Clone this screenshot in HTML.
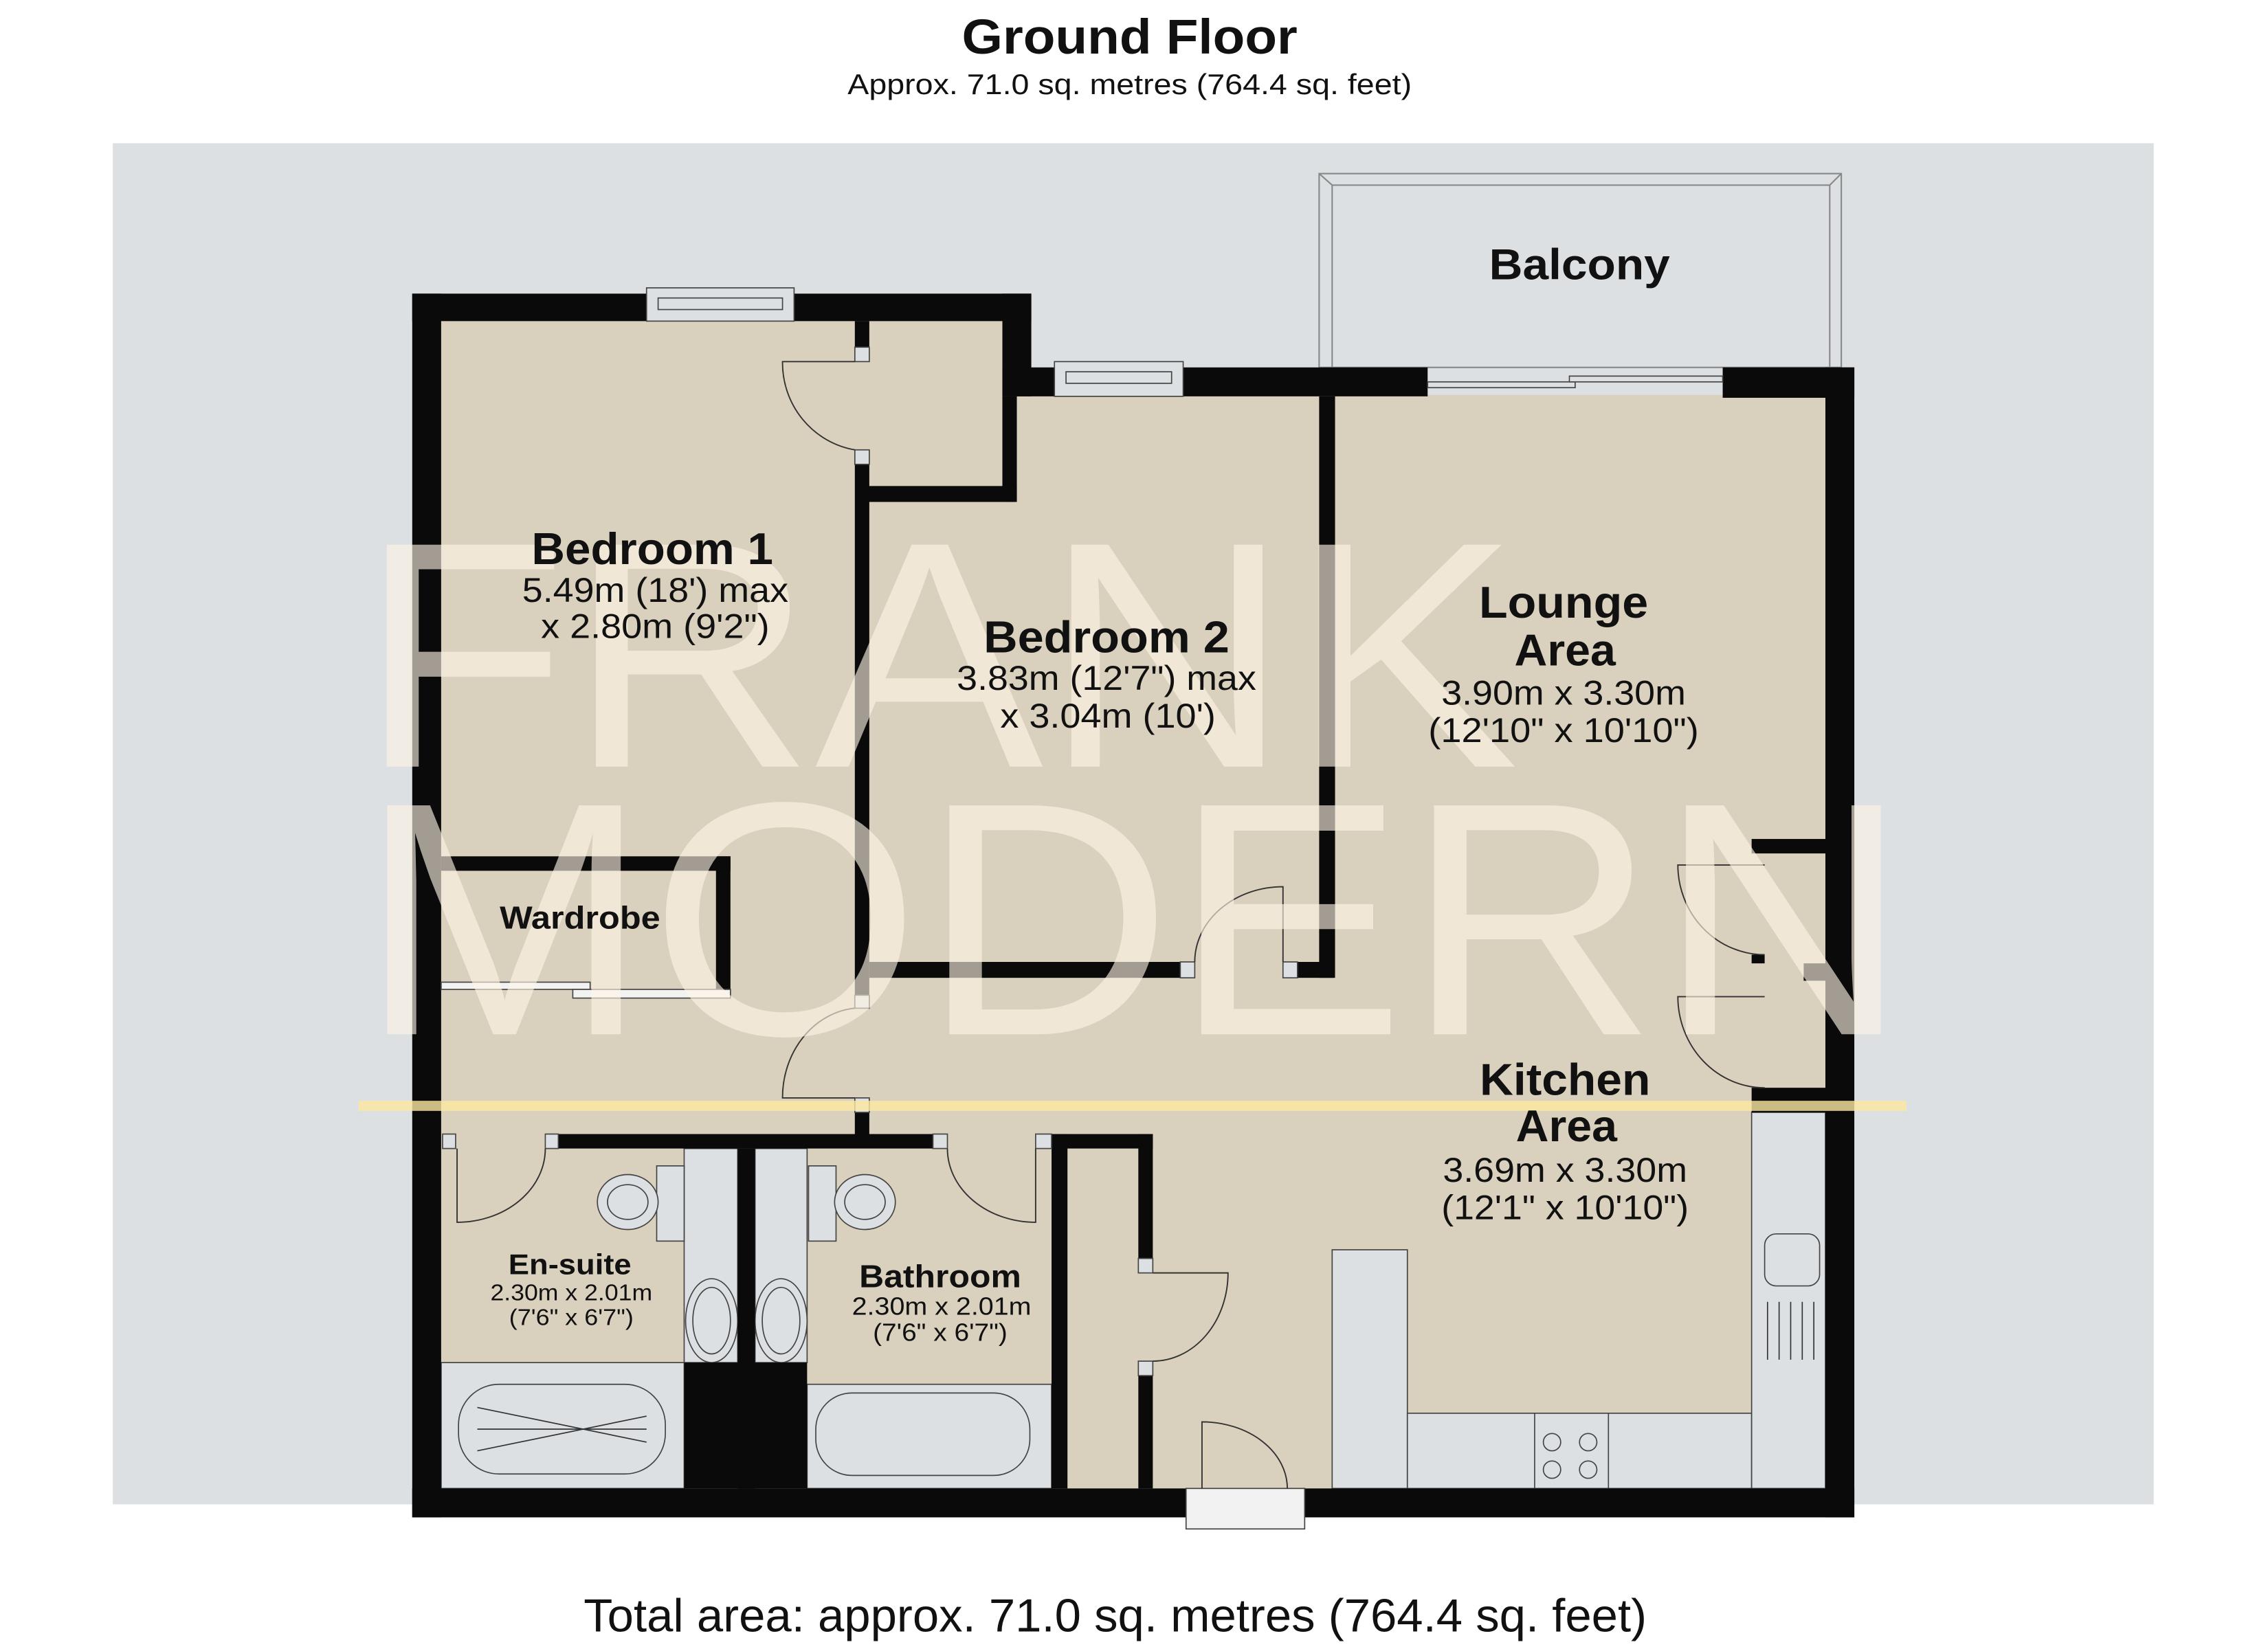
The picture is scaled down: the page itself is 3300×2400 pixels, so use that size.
<!DOCTYPE html>
<html><head><meta charset="utf-8"><style>
html,body{margin:0;padding:0;background:#fff;}
svg{display:block;}
text{font-family:"Liberation Sans",sans-serif;fill:#111;}
</style></head><body>
<svg width="3300" height="2400" viewBox="0 0 1568 1140" preserveAspectRatio="none" xmlns="http://www.w3.org/2000/svg">
<rect x="0" y="0" width="1568" height="1140" fill="#fff"/>
<text x="781" y="37" text-anchor="middle" font-size="34" font-weight="bold" textLength="232" lengthAdjust="spacingAndGlyphs">Ground Floor</text>
<text x="781" y="65" text-anchor="middle" font-size="20" textLength="390" lengthAdjust="spacingAndGlyphs">Approx. 71.0 sq. metres (764.4 sq. feet)</text>
<text x="771" y="1128" text-anchor="middle" font-size="32" textLength="735" lengthAdjust="spacingAndGlyphs">Total area: approx. 71.0 sq. metres (764.4 sq. feet)</text>
<rect x="78" y="99" width="1411" height="941" fill="#dde0e3"/>
<rect x="912" y="120" width="361" height="134" fill="#dde0e3" stroke="#888" stroke-width="1"/>
<polyline points="921,254 921,128 1265,128 1265,254" fill="none" stroke="#888" stroke-width="1"/>
<line x1="912" y1="120" x2="921" y2="128" stroke="#888"/><line x1="1273" y1="120" x2="1265" y2="128" stroke="#888"/>
<polygon points="305,222 695,222 695,273 1262,273 1262,1029 305,1029" fill="#d9d0bd"/>
<g fill="#dde0e3" stroke="#444" stroke-width="0.8">
<rect x="473" y="794" width="37" height="148"/>
<rect x="522" y="794" width="36" height="148"/>
<rect x="305" y="942" width="168" height="87"/>
<rect x="558" y="957" width="169" height="72"/>
<rect x="921" y="864" width="52" height="165"/>
<rect x="973" y="977" width="238" height="52"/>
<rect x="1211" y="769" width="51" height="260"/>
<rect x="1061" y="977" width="51" height="52"/>
<rect x="454" y="806" width="19" height="52"/>
<rect x="559" y="806" width="19" height="52"/>
<ellipse cx="434" cy="831" rx="21" ry="19"/><ellipse cx="434" cy="831" rx="14" ry="12"/>
<ellipse cx="598" cy="831" rx="21" ry="19"/><ellipse cx="598" cy="831" rx="14" ry="12"/>
<ellipse cx="492" cy="913" rx="18" ry="29"/><ellipse cx="492" cy="913" rx="13" ry="23"/>
<ellipse cx="540" cy="913" rx="18" ry="29"/><ellipse cx="540" cy="913" rx="13" ry="23"/>
<rect x="317" y="957" width="143" height="62" rx="28"/>
<rect x="564" y="963" width="148" height="57" rx="25"/>
<rect x="1220" y="853" width="38" height="36" rx="8"/>
<circle cx="1073" cy="997" r="6"/><circle cx="1098" cy="997" r="6"/><circle cx="1073" cy="1016" r="6"/><circle cx="1098" cy="1016" r="6"/>
</g>
<g stroke="#333" stroke-width="0.8" fill="none">
<line x1="330" y1="973" x2="447" y2="997"/><line x1="330" y1="988" x2="447" y2="988"/><line x1="330" y1="1003" x2="447" y2="979"/>
<line x1="1222" y1="900" x2="1222" y2="940"/><line x1="1230" y1="900" x2="1230" y2="940"/><line x1="1238" y1="900" x2="1238" y2="940"/><line x1="1246" y1="900" x2="1246" y2="940"/><line x1="1254" y1="900" x2="1254" y2="940"/>
</g>
<g fill="#0a0a0a">
<rect x="285" y="203" width="20" height="846"/>
<rect x="285" y="203" width="428" height="19"/>
<rect x="693" y="203" width="20" height="71"/>
<rect x="693" y="254" width="294" height="20"/>
<rect x="1191" y="254" width="91" height="21"/>
<rect x="1262" y="254" width="20" height="795"/>
<rect x="285" y="1029" width="535" height="20"/>
<rect x="902" y="1029" width="380" height="20"/>
<rect x="693" y="274" width="10" height="73"/>
<rect x="597" y="336" width="106" height="11"/>
<rect x="591" y="222" width="10" height="18"/>
<rect x="591" y="321" width="10" height="367"/>
<rect x="591" y="769" width="10" height="17"/>
<rect x="601" y="665" width="215" height="11"/>
<rect x="897" y="665" width="25" height="11"/>
<rect x="912" y="274" width="11" height="402"/>
<rect x="305" y="592" width="200" height="10"/>
<rect x="495" y="592" width="10" height="98"/>
<rect x="386" y="784" width="259" height="10"/>
<rect x="727" y="784" width="11" height="245"/>
<rect x="727" y="784" width="70" height="10"/>
<rect x="787" y="784" width="10" height="86"/>
<rect x="787" y="951" width="10" height="78"/>
<rect x="510" y="794" width="12" height="235"/>
<rect x="473" y="942" width="85" height="87"/>
<rect x="1211" y="580" width="51" height="10"/>
<rect x="1211" y="660" width="9" height="6"/>
<rect x="1247" y="666" width="15" height="12"/>
<rect x="1211" y="752" width="51" height="17"/>
</g>
<g fill="#dde0e3" stroke="#444" stroke-width="0.8">
<rect x="591" y="240" width="10" height="10"/><rect x="591" y="311" width="10" height="10"/>
<rect x="591" y="688" width="10" height="9"/><rect x="591" y="759" width="10" height="10"/>
<rect x="816" y="665" width="10" height="11"/><rect x="887" y="665" width="10" height="11"/>
<rect x="306" y="784" width="9" height="10"/><rect x="377" y="784" width="9" height="10"/>
<rect x="645" y="784" width="10" height="10"/><rect x="716" y="784" width="11" height="10"/>
<rect x="787" y="870" width="10" height="10"/><rect x="787" y="941" width="10" height="10"/>
<rect x="447" y="199" width="102" height="23"/><rect x="455" y="206" width="86" height="8"/>
<rect x="729" y="250" width="89" height="24"/><rect x="737" y="257" width="73" height="8"/>
<rect x="987" y="264" width="102" height="4"/><rect x="1085" y="260" width="106" height="4"/>
<rect x="820" y="1029" width="82" height="28" fill="#f2f2f2"/>
<rect x="305" y="679" width="103" height="5" fill="#f2f2f2"/><rect x="396" y="684" width="109" height="6" fill="#f2f2f2"/>
</g>
<g stroke="#333" stroke-width="0.9" fill="none">
<path d="M591,250 L541,250 A60,61 0 0 0 591,311"/>
<path d="M591,697 A55,62 0 0 0 541,759 L591,759"/>
<path d="M887,665 L887,613 A61,52 0 0 0 826,665"/>
<path d="M316,794 L316,845 A61,51 0 0 0 377,794"/>
<path d="M716,794 L716,845 A61,51 0 0 1 655,794"/>
<path d="M797,880 L849,880 A52,61 0 0 1 797,941"/>
<path d="M831,1029 L831,983 A59,46 0 0 1 890,1029"/>
<path d="M1220,598 L1160,598 A60,62 0 0 0 1220,660"/>
<path d="M1220,689 L1160,689 A60,63 0 0 0 1220,752"/>
</g>
<!-- watermark (below labels) -->
<g opacity="0.62">
<text x="248" y="530" font-size="223" style="fill:#fff6e6" textLength="802" lengthAdjust="spacingAndGlyphs">FRANK</text>
<text x="248" y="715" font-size="230" style="fill:#fff6e6" textLength="1072" lengthAdjust="spacingAndGlyphs">MODERN</text>
</g>
<rect x="248" y="761" width="1070" height="7" fill="#fde7a0" opacity="0.8"/>
<g text-anchor="middle">
<text x="1092" y="193" font-size="30" font-weight="bold" textLength="125" lengthAdjust="spacingAndGlyphs">Balcony</text>
<text x="451" y="390" font-size="31" font-weight="bold" textLength="167" lengthAdjust="spacingAndGlyphs">Bedroom 1</text>
<text x="453" y="416" font-size="24" textLength="184" lengthAdjust="spacingAndGlyphs">5.49m (18') max</text>
<text x="453" y="441" font-size="24" textLength="158" lengthAdjust="spacingAndGlyphs">x 2.80m (9'2")</text>
<text x="765" y="451" font-size="31" font-weight="bold" textLength="170" lengthAdjust="spacingAndGlyphs">Bedroom 2</text>
<text x="765" y="477" font-size="24" textLength="207" lengthAdjust="spacingAndGlyphs">3.83m (12'7") max</text>
<text x="766" y="503" font-size="24" textLength="149" lengthAdjust="spacingAndGlyphs">x 3.04m (10')</text>
<text x="1081" y="427" font-size="31" font-weight="bold" textLength="117" lengthAdjust="spacingAndGlyphs">Lounge</text>
<text x="1082" y="460" font-size="31" font-weight="bold" textLength="70" lengthAdjust="spacingAndGlyphs">Area</text>
<text x="1081" y="487" font-size="24" textLength="169" lengthAdjust="spacingAndGlyphs">3.90m x 3.30m</text>
<text x="1081" y="513" font-size="24" textLength="187" lengthAdjust="spacingAndGlyphs">(12'10" x 10'10")</text>
<text x="401" y="642" font-size="22" font-weight="bold" textLength="111" lengthAdjust="spacingAndGlyphs">Wardrobe</text>
<text x="1082" y="757" font-size="31" font-weight="bold" textLength="118" lengthAdjust="spacingAndGlyphs">Kitchen</text>
<text x="1083" y="789" font-size="31" font-weight="bold" textLength="70" lengthAdjust="spacingAndGlyphs">Area</text>
<text x="1082" y="817" font-size="24" textLength="169" lengthAdjust="spacingAndGlyphs">3.69m x 3.30m</text>
<text x="1082" y="843" font-size="24" textLength="171" lengthAdjust="spacingAndGlyphs">(12'1" x 10'10")</text>
<text x="394" y="881" font-size="20" font-weight="bold" textLength="85" lengthAdjust="spacingAndGlyphs">En-suite</text>
<text x="395" y="899" font-size="16" textLength="112" lengthAdjust="spacingAndGlyphs">2.30m x 2.01m</text>
<text x="395" y="916" font-size="16" textLength="86" lengthAdjust="spacingAndGlyphs">(7'6" x 6'7")</text>
<text x="650" y="890" font-size="22" font-weight="bold" textLength="112" lengthAdjust="spacingAndGlyphs">Bathroom</text>
<text x="651" y="909" font-size="17" textLength="124" lengthAdjust="spacingAndGlyphs">2.30m x 2.01m</text>
<text x="650" y="927" font-size="17" textLength="93" lengthAdjust="spacingAndGlyphs">(7'6" x 6'7")</text>
</g>
</svg>
</body></html>
